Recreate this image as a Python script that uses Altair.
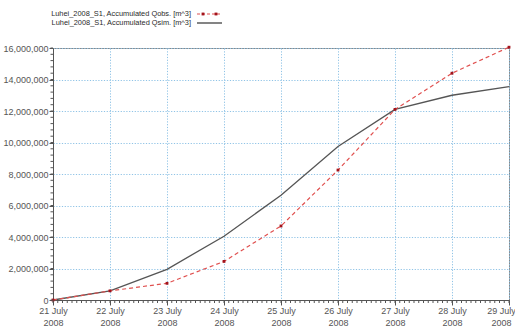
import altair as alt
import pandas as pd

# Daily accumulated discharge volumes, Luhei 2008 event S1
days = [
    "2008-07-21T00:00:00", "2008-07-22T00:00:00", "2008-07-23T00:00:00",
    "2008-07-24T00:00:00", "2008-07-25T00:00:00", "2008-07-26T00:00:00",
    "2008-07-27T00:00:00", "2008-07-28T00:00:00", "2008-07-29T00:00:00",
]
q_obs = [0, 580000, 1060000, 2450000, 4700000, 8250000, 12100000, 14400000, 16050000]
q_sim = [0, 580000, 1950000, 4050000, 6650000, 9750000, 12100000, 13000000, 13550000]

obs_name = "Luhei_2008_S1, Accumulated Qobs. [m^3]"
sim_name = "Luhei_2008_S1, Accumulated Qsim. [m^3]"

y_major = list(range(0, 16000001, 2000000))
y_minor = list(range(0, 16000001, 400000))
x_minor = pd.date_range("2008-07-21", "2008-07-29", freq="2h").strftime("%Y-%m-%dT%H:%M:%S").tolist()

W, H = 456, 252
FONT = "Liberation Sans"
GRID = "#8fc3e6"
AXIS = "#555555"
OBS_LINE = "#e0504f"
OBS_PT = "#a3141c"
SIM_LINE = "#555555"

df = pd.DataFrame({"date": days, "obs": q_obs, "sim": q_sim})

x_scale = alt.Scale(domain=[alt.DateTime(year=2008, month=7, date=21),
                            alt.DateTime(year=2008, month=7, date=29)])
y_scale = alt.Scale(domain=[0, 16000000], nice=False)

x_axis = alt.Axis(
    values=[alt.DateTime(year=2008, month=7, date=d) for d in range(21, 30)],
    labelExpr="[timeFormat(datum.value, '%d %B'), timeFormat(datum.value, '%Y')]",
    title=None, grid=True, gridColor=GRID, gridDash=[1.2, 1.6], gridWidth=1,
    tickSize=5, tickColor=AXIS, domainColor=AXIS, labelColor="#555555",
    labelFont=FONT, labelFontSize=9, labelLineHeight=12, labelPadding=1,
    labelFlush=False, labelBound=False, labelOverlap=False,
    # the last date label is nudged left so it stays inside the frame
    labelOffset={"condition": {"test": "date(datum.value) == 29", "value": -8}, "value": 0},
)
y_axis = alt.Axis(
    values=y_major, format=",d", title=None, grid=True, gridColor=GRID,
    gridDash=[1.2, 1.6], gridWidth=1, tickSize=4, tickColor=AXIS,
    domainColor=AXIS, labelColor="#555555", labelFont=FONT, labelFontSize=9,
    labelPadding=1,
)


def xe(field):
    return alt.X(field, scale=x_scale, axis=x_axis)


def ye(field):
    return alt.Y(field, scale=y_scale, axis=y_axis)


sim_line = alt.Chart(df).mark_line(color=SIM_LINE, strokeWidth=1.3).encode(
    x=xe("date:T"), y=ye("sim:Q")
)
obs_line = alt.Chart(df).mark_line(color=OBS_LINE, strokeWidth=1.2, strokeDash=[4, 3]).encode(
    x=xe("date:T"), y=ye("obs:Q")
)
obs_pts = alt.Chart(df).mark_point(shape="square", filled=True, size=8, color=OBS_PT, opacity=1).encode(
    x=xe("date:T"), y=ye("obs:Q")
)

# minor ticks on both axes
y_minor_ticks = alt.Chart(pd.DataFrame({"v": y_minor})).mark_rule(color=AXIS, strokeWidth=1).encode(
    y=ye("v:Q"), x=alt.value(-2.5), x2=alt.value(0)
)
x_minor_ticks = alt.Chart(pd.DataFrame({"t": x_minor})).mark_rule(color=AXIS, strokeWidth=1).encode(
    x=xe("t:T"), y=alt.value(H), y2=alt.value(H + 3)
)

# legend, symbols to the right of the labels
LEG_FONT = dict(align="right", baseline="middle", font=FONT, fontSize=7.4, color="#2a2a2a")
leg_obs_text = alt.Chart(pd.DataFrame({"label": [obs_name]})).mark_text(**LEG_FONT).encode(
    x=alt.value(138), y=alt.value(-34), text="label:N"
)
leg_sim_text = alt.Chart(pd.DataFrame({"label": [sim_name]})).mark_text(**LEG_FONT).encode(
    x=alt.value(138), y=alt.value(-25), text="label:N"
)
leg_obs_line = alt.Chart(pd.DataFrame({"label": [obs_name]})).mark_rule(
    color=OBS_LINE, strokeWidth=1.2, strokeDash=[3, 2]
).encode(x=alt.value(144), x2=alt.value(169), y=alt.value(-34))
leg_obs_pt1 = alt.Chart(pd.DataFrame({"label": [obs_name]})).mark_point(
    shape="square", filled=True, size=8, color=OBS_PT, opacity=1
).encode(x=alt.value(150), y=alt.value(-34))
leg_obs_pt2 = alt.Chart(pd.DataFrame({"label": [obs_name]})).mark_point(
    shape="square", filled=True, size=8, color=OBS_PT, opacity=1
).encode(x=alt.value(163), y=alt.value(-34))
leg_sim_line = alt.Chart(pd.DataFrame({"label": [sim_name]})).mark_rule(
    color="#333333", strokeWidth=1.2
).encode(x=alt.value(144), x2=alt.value(169), y=alt.value(-25))

chart = alt.layer(
    sim_line, obs_line, obs_pts, y_minor_ticks, x_minor_ticks,
    leg_obs_text, leg_sim_text, leg_obs_line, leg_obs_pt1, leg_obs_pt2, leg_sim_line,
).properties(
    width=W, height=H,
    autosize=alt.AutoSizeParams(type="none"),
    padding={"left": 53, "top": 48, "right": 6, "bottom": 29},
    background="white",
).configure_view(stroke="#888888", strokeWidth=1)

chart.save("out.html", embed_options={"renderer": "svg", "actions": False})
